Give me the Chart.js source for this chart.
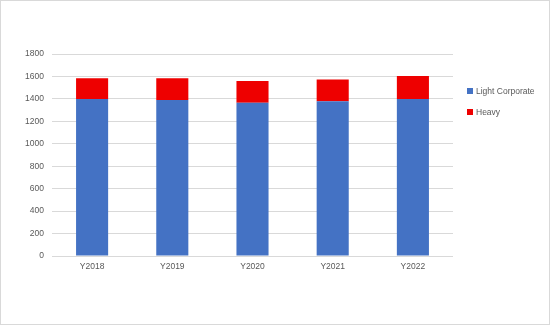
<!DOCTYPE html>
<html>
<head>
<meta charset="utf-8">
<script src="https://cdn.jsdelivr.net/npm/chart.js@4"></script>
<style>
  html, body { margin: 0; padding: 0; background: #fff; }
  #wrap { position: relative; width: 550px; height: 325px; box-sizing: border-box; border: 1px solid #d9d9d9; }
  #c { position: absolute; left: 0; top: 0; }
  .leg { position: absolute; font-family: "Liberation Sans", Arial, sans-serif; font-size: 8.5px; color: #595959; white-space: nowrap; }
  .leg span.box { display: inline-block; width: 6px; height: 6px; margin-right: 3px; vertical-align: -0px; }
</style>
</head>
<body>
<div id="wrap">
  <canvas id="c" width="548" height="323"></canvas>
  <div class="leg" style="left:466px; top:85px;"><span class="box" style="background:#4472C4"></span>Light Corporate</div>
  <div class="leg" style="left:466px; top:106px;"><span class="box" style="background:#EE0000"></span>Heavy</div>
</div>
<script>
const categories = ["Y2018", "Y2019", "Y2020", "Y2021", "Y2022"];
const lightCorporate = [1400, 1390, 1365, 1380, 1400];
const heavy = [185, 195, 195, 193, 205];
const yTicks = [0, 200, 400, 600, 800, 1000, 1200, 1400, 1600, 1800];

const font = { family: "'Liberation Sans', Arial, sans-serif", size: 8.5 };

new Chart(document.getElementById("c"), {
  type: "bar",
  data: {
    labels: categories,
    datasets: [
      { label: "Light Corporate", data: lightCorporate, backgroundColor: "#4472C4", barPercentage: 0.4, categoryPercentage: 1.0 },
      { label: "Heavy", data: heavy, backgroundColor: "#EE0000", barPercentage: 0.4, categoryPercentage: 1.0 }
    ]
  },
  options: {
    responsive: false,
    animation: false,
    devicePixelRatio: 1,
    layout: { padding: { left: 0, right: 96, top: 53, bottom: 48 } },
    plugins: { legend: { display: false }, tooltip: { enabled: false } },
    scales: {
      x: {
        stacked: true,
        grid: { display: false, drawTicks: false },
        border: { display: false },
        ticks: { color: "#595959", font: font, padding: 6 },
        afterFit: s => { s.height = 20; }
      },
      y: {
        stacked: true,
        min: 0,
        max: 1800,
        afterBuildTicks: s => { s.ticks = yTicks.map(v => ({ value: v })); },
        grid: { color: "#d9d9d9", drawTicks: false, lineWidth: 1 },
        border: { display: false },
        ticks: { color: "#595959", font: font, padding: 8, callback: v => String(v) },
        afterFit: s => { s.width = 51; }
      }
    }
  }
});
</script>
</body>
</html>
